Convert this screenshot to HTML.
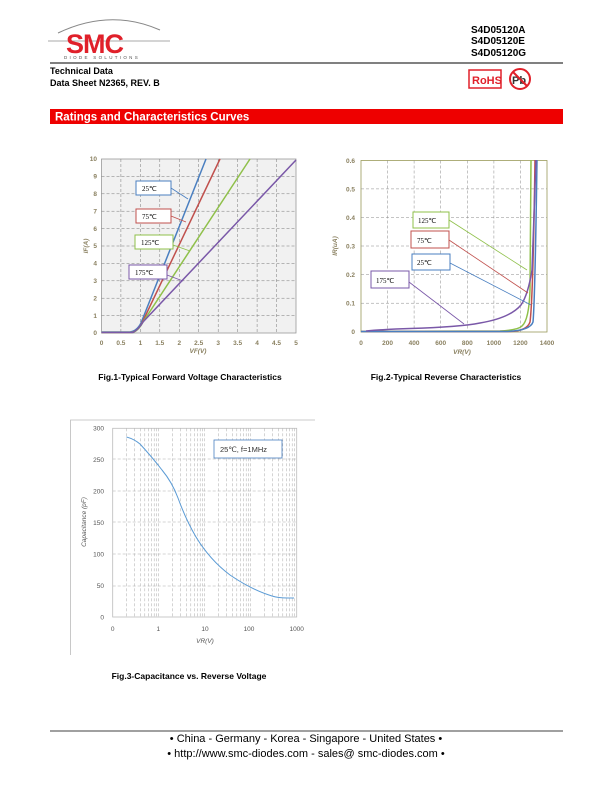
<!DOCTYPE html>
<html><head><meta charset="utf-8"><style>
body{margin:0;background:#fff;}
svg{display:block;font-family:"Liberation Sans",sans-serif;}
</style></head><body>
<svg width="612" height="792" viewBox="0 0 612 792" xmlns="http://www.w3.org/2000/svg">
<!-- header logo -->
<path d="M58 33 Q110 8 160 30" fill="none" stroke="#888" stroke-width="1"/>
<line x1="48" y1="41" x2="170" y2="41" stroke="#aaa" stroke-width="1"/>
<text x="66" y="53" font-size="27" font-weight="bold" fill="#e0202a" font-family="Liberation Sans" letter-spacing="-1">SMC</text>
<text x="64" y="59" font-size="4.5" fill="#555" letter-spacing="2.3">DIODE SOLUTIONS</text>
<text x="471" y="33" font-size="10" font-weight="bold">S4D05120A</text>
<text x="471" y="44" font-size="10" font-weight="bold">S4D05120E</text>
<text x="471" y="56" font-size="10" font-weight="bold">S4D05120G</text>
<line x1="50" y1="63" x2="563" y2="63" stroke="#000" stroke-width="1"/>
<text x="50" y="74" font-size="9" font-weight="bold">Technical Data</text>
<text x="50" y="86" font-size="9" font-weight="bold">Data Sheet N2365, REV. B</text>
<rect x="469" y="70" width="32" height="18" fill="none" stroke="#e0202a" stroke-width="1.5"/>
<text x="472" y="84" font-size="11" font-weight="bold" fill="#e0202a">RoHS</text>
<circle cx="520" cy="79" r="10" fill="none" stroke="#e0202a" stroke-width="2"/>
<text x="512" y="84" font-size="11" font-weight="bold" fill="#333">Pb</text>
<line x1="513" y1="72" x2="527" y2="86" stroke="#e0202a" stroke-width="2"/>
<rect x="50" y="109" width="513" height="15" fill="#ee0000"/>
<text x="55" y="120.5" font-size="11.5" font-weight="bold" fill="#fff">Ratings and Characteristics Curves</text>

<!-- FIG 1 -->
<rect x="101.5" y="159" width="194.5" height="174" fill="#f1f1f1" stroke="#999" stroke-width="0.8"/>
<g stroke="#777" stroke-width="0.5" stroke-dasharray="3,2">
<line x1="120.9" y1="159" x2="120.9" y2="333"/><line x1="140.4" y1="159" x2="140.4" y2="333"/><line x1="159.8" y1="159" x2="159.8" y2="333"/><line x1="179.3" y1="159" x2="179.3" y2="333"/><line x1="198.7" y1="159" x2="198.7" y2="333"/><line x1="218.2" y1="159" x2="218.2" y2="333"/><line x1="237.6" y1="159" x2="237.6" y2="333"/><line x1="257.1" y1="159" x2="257.1" y2="333"/><line x1="276.5" y1="159" x2="276.5" y2="333"/>
<line x1="101.5" y1="176.4" x2="296" y2="176.4"/><line x1="101.5" y1="193.8" x2="296" y2="193.8"/><line x1="101.5" y1="211.2" x2="296" y2="211.2"/><line x1="101.5" y1="228.6" x2="296" y2="228.6"/><line x1="101.5" y1="246" x2="296" y2="246"/><line x1="101.5" y1="263.4" x2="296" y2="263.4"/><line x1="101.5" y1="280.8" x2="296" y2="280.8"/><line x1="101.5" y1="298.2" x2="296" y2="298.2"/><line x1="101.5" y1="315.6" x2="296" y2="315.6"/>
</g>
<g fill="none" stroke-width="1.5">
<path d="M101.5 332 L130 332 Q137 331 141 323 L206 159" stroke="#4a7fc0"/>
<path d="M101.5 332.5 L132 332.5 Q138 331 142 323 L220 159" stroke="#c0504d"/>
<path d="M101.5 332.5 L133 332.5 Q139 330 143 322 L250 159" stroke="#8fc04a"/>
<path d="M101.5 332.5 L133 332.5 Q139 329 143 322 L296 160" stroke="#7a58a8"/>
</g>
<g font-size="6.5" font-weight="bold" fill="#8a8060">
<text x="97" y="161" text-anchor="end">10</text><text x="97" y="178.5" text-anchor="end">9</text><text x="97" y="196" text-anchor="end">8</text><text x="97" y="213.4" text-anchor="end">7</text><text x="97" y="230.8" text-anchor="end">6</text><text x="97" y="248.2" text-anchor="end">5</text><text x="97" y="265.6" text-anchor="end">4</text><text x="97" y="283" text-anchor="end">3</text><text x="97" y="300.4" text-anchor="end">2</text><text x="97" y="317.8" text-anchor="end">1</text><text x="97" y="335.2" text-anchor="end">0</text>
<g text-anchor="middle"><text x="101.5" y="345">0</text><text x="120.9" y="345">0.5</text><text x="140.4" y="345">1</text><text x="159.8" y="345">1.5</text><text x="179.3" y="345">2</text><text x="198.7" y="345">2.5</text><text x="218.2" y="345">3</text><text x="237.6" y="345">3.5</text><text x="257.1" y="345">4</text><text x="276.5" y="345">4.5</text><text x="296" y="345">5</text></g>
<text x="198" y="353" text-anchor="middle" font-style="italic">VF(V)</text>
<text transform="translate(88 246) rotate(-90)" text-anchor="middle" font-style="italic">IF(A)</text>
</g>
<g font-size="7" font-family="Liberation Serif">
<rect x="136" y="181" width="35" height="14" fill="#fff" stroke="#4a7fc0"/><text x="142" y="191">25℃</text>
<rect x="136" y="209" width="35" height="14" fill="#fff" stroke="#c0504d"/><text x="142" y="219">75℃</text>
<rect x="135" y="235" width="38" height="14" fill="#fff" stroke="#8fc04a"/><text x="141" y="245">125℃</text>
<rect x="129" y="265" width="38" height="14" fill="#fff" stroke="#7a58a8"/><text x="135" y="275">175℃</text>
</g>
<g stroke-width="0.8" fill="none">
<line x1="171" y1="188" x2="188" y2="199" stroke="#4a7fc0"/>
<line x1="171" y1="216" x2="186" y2="222" stroke="#c0504d"/>
<line x1="173" y1="245" x2="190" y2="251" stroke="#8fc04a"/>
<line x1="167" y1="275" x2="183" y2="281" stroke="#7a58a8"/>
</g>
<text x="190" y="380" font-size="8.5" font-weight="bold" text-anchor="middle">Fig.1-Typical Forward Voltage Characteristics</text>

<!-- FIG 2 -->
<rect x="361" y="160.5" width="186" height="171.5" fill="#fff" stroke="#9a9a5a" stroke-width="0.8"/>
<g stroke="#888" stroke-width="0.5" stroke-dasharray="3,2">
<line x1="387.6" y1="160.5" x2="387.6" y2="332"/><line x1="414.1" y1="160.5" x2="414.1" y2="332"/><line x1="440.7" y1="160.5" x2="440.7" y2="332"/><line x1="467.3" y1="160.5" x2="467.3" y2="332"/><line x1="493.9" y1="160.5" x2="493.9" y2="332"/><line x1="520.4" y1="160.5" x2="520.4" y2="332"/>
<line x1="361" y1="188.9" x2="547" y2="188.9"/><line x1="361" y1="217.5" x2="547" y2="217.5"/><line x1="361" y1="246" x2="547" y2="246"/><line x1="361" y1="274.6" x2="547" y2="274.6"/><line x1="361" y1="303.2" x2="547" y2="303.2"/>
</g>
<g fill="none" stroke-width="1.5">
<path d="M361 331.5 L500 331 Q518 330 522 326 Q529 320 530 290 L531 160" stroke="#8fc04a"/>
<path d="M361 331.5 L510 331.5 Q527 331 530 322 Q533 300 535 160" stroke="#c0504d"/>
<path d="M361 331.5 L505 331.5 Q530 331 533 322 Q535 300 537 160" stroke="#4a7fc0"/>
<path d="M366 331 Q390 329 410 328.5 Q460 327 480 323 Q510 318 521 305 Q528 295 532 270 L536 160" stroke="#7a58a8"/>
</g>
<g font-size="6.5" font-weight="bold" fill="#8a8060">
<text x="355" y="163" text-anchor="end">0.6</text><text x="355" y="191.5" text-anchor="end">0.5</text><text x="355" y="220" text-anchor="end">0.4</text><text x="355" y="248.5" text-anchor="end">0.3</text><text x="355" y="277" text-anchor="end">0.2</text><text x="355" y="305.6" text-anchor="end">0.1</text><text x="355" y="334.2" text-anchor="end">0</text>
<g text-anchor="middle"><text x="361" y="345">0</text><text x="387.6" y="345">200</text><text x="414.1" y="345">400</text><text x="440.7" y="345">600</text><text x="467.3" y="345">800</text><text x="493.9" y="345">1000</text><text x="520.4" y="345">1200</text><text x="547" y="345">1400</text></g>
<text x="462" y="354" text-anchor="middle" font-style="italic">VR(V)</text>
<text transform="translate(337 246) rotate(-90)" text-anchor="middle" font-style="italic">IR(uA)</text>
</g>
<g font-size="7" font-family="Liberation Serif">
<rect x="413" y="212" width="36" height="16" fill="#fff" stroke="#8fc04a"/><text x="418" y="223">125℃</text>
<rect x="411" y="231" width="38" height="17" fill="#fff" stroke="#c0504d"/><text x="417" y="243">75℃</text>
<rect x="412" y="254" width="38" height="16" fill="#fff" stroke="#4a7fc0"/><text x="417" y="265">25℃</text>
<rect x="371" y="271" width="38" height="17" fill="#fff" stroke="#7a58a8"/><text x="376" y="283">175℃</text>
</g>
<g stroke-width="0.8" fill="none">
<line x1="449" y1="220" x2="527" y2="270" stroke="#8fc04a"/>
<line x1="449" y1="240" x2="528" y2="293" stroke="#c0504d"/>
<line x1="450" y1="263" x2="531" y2="305" stroke="#4a7fc0"/>
<line x1="409" y1="282" x2="464" y2="324" stroke="#7a58a8"/>
</g>
<text x="446" y="380" font-size="8.5" font-weight="bold" text-anchor="middle">Fig.2-Typical Reverse Characteristics</text>

<!-- FIG 3 -->
<path d="M315 420 L70.5 420 L70.5 655" fill="none" stroke="#bbb" stroke-width="0.8"/>
<g stroke="#aaa" stroke-width="0.5" stroke-dasharray="3,2">
<line x1="112.7" y1="491" x2="296.7" y2="491"/><line x1="112.7" y1="554" x2="296.7" y2="554"/><line x1="112.7" y1="586" x2="296.7" y2="586"/><line x1="112.7" y1="459" x2="296.7" y2="459"/><line x1="112.7" y1="522" x2="296.7" y2="522"/>
<line x1="126.5" y1="428.3" x2="126.5" y2="617"/><line x1="134.6" y1="428.3" x2="134.6" y2="617"/><line x1="140.4" y1="428.3" x2="140.4" y2="617"/><line x1="144.8" y1="428.3" x2="144.8" y2="617"/><line x1="148.5" y1="428.3" x2="148.5" y2="617"/><line x1="151.6" y1="428.3" x2="151.6" y2="617"/><line x1="154.2" y1="428.3" x2="154.2" y2="617"/><line x1="156.5" y1="428.3" x2="156.5" y2="617"/><line x1="158.7" y1="428.3" x2="158.7" y2="617"/>
<line x1="172.5" y1="428.3" x2="172.5" y2="617"/><line x1="180.6" y1="428.3" x2="180.6" y2="617"/><line x1="186.4" y1="428.3" x2="186.4" y2="617"/><line x1="190.8" y1="428.3" x2="190.8" y2="617"/><line x1="194.5" y1="428.3" x2="194.5" y2="617"/><line x1="197.6" y1="428.3" x2="197.6" y2="617"/><line x1="200.2" y1="428.3" x2="200.2" y2="617"/><line x1="202.5" y1="428.3" x2="202.5" y2="617"/><line x1="204.7" y1="428.3" x2="204.7" y2="617"/>
<line x1="218.5" y1="428.3" x2="218.5" y2="617"/><line x1="226.6" y1="428.3" x2="226.6" y2="617"/><line x1="232.4" y1="428.3" x2="232.4" y2="617"/><line x1="236.8" y1="428.3" x2="236.8" y2="617"/><line x1="240.5" y1="428.3" x2="240.5" y2="617"/><line x1="243.6" y1="428.3" x2="243.6" y2="617"/><line x1="246.2" y1="428.3" x2="246.2" y2="617"/><line x1="248.5" y1="428.3" x2="248.5" y2="617"/><line x1="250.7" y1="428.3" x2="250.7" y2="617"/>
<line x1="264.5" y1="428.3" x2="264.5" y2="617"/><line x1="272.6" y1="428.3" x2="272.6" y2="617"/><line x1="278.4" y1="428.3" x2="278.4" y2="617"/><line x1="282.8" y1="428.3" x2="282.8" y2="617"/><line x1="286.5" y1="428.3" x2="286.5" y2="617"/><line x1="289.6" y1="428.3" x2="289.6" y2="617"/><line x1="292.2" y1="428.3" x2="292.2" y2="617"/><line x1="294.5" y1="428.3" x2="294.5" y2="617"/>
</g>
<rect x="112.7" y="428.3" width="184" height="188.7" fill="none" stroke="#bbb" stroke-width="0.8"/>
<path d="M126.5 437 Q134 439 140 444 Q152 457 162 470 Q172 482 178 498 Q186 520 196 537 Q210 560 230 575 Q252 590 272 596 Q278 598 288 598 L294 598" fill="none" stroke="#5b9bd5" stroke-width="1"/>
<rect x="214" y="440" width="68" height="18" fill="#fff" stroke="#4a7fc0" stroke-width="0.8"/>
<text x="220" y="452" font-size="7.5" fill="#333">25℃, f=1MHz</text>
<g font-size="6.5" fill="#555">
<text x="104" y="430.5" text-anchor="end">300</text><text x="104" y="462" text-anchor="end">250</text><text x="104" y="493.5" text-anchor="end">200</text><text x="104" y="525" text-anchor="end">150</text><text x="104" y="556.5" text-anchor="end">100</text><text x="104" y="588" text-anchor="end">50</text><text x="104" y="619.5" text-anchor="end">0</text>
<g text-anchor="middle"><text x="112.7" y="631">0</text><text x="158.3" y="631">1</text><text x="205" y="631">10</text><text x="249" y="631">100</text><text x="296.7" y="631">1000</text></g>
<text x="205" y="643" text-anchor="middle" font-style="italic">VR(V)</text>
<text transform="translate(86 522) rotate(-90)" text-anchor="middle" font-style="italic">Capacitance (pF)</text>
</g>
<text x="189" y="679" font-size="8.5" font-weight="bold" text-anchor="middle">Fig.3-Capacitance vs. Reverse Voltage</text>

<!-- footer -->
<line x1="50" y1="731" x2="563" y2="731" stroke="#000" stroke-width="0.8"/>
<text x="306" y="742" font-size="11" text-anchor="middle">• China  -  Germany  -  Korea  -  Singapore  -  United States •</text>
<text x="306" y="757" font-size="11" text-anchor="middle">• http://www.smc-diodes.com  -  sales@ smc-diodes.com •</text>
</svg>
</body></html>
